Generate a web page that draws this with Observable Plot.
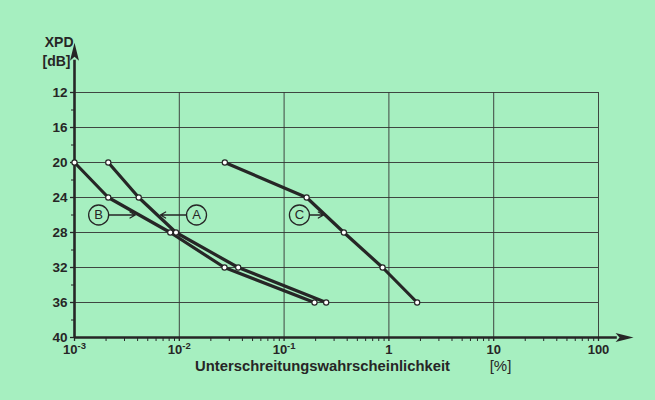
<!DOCTYPE html>
<html><head><meta charset="utf-8">
<script src="https://cdn.jsdelivr.net/npm/d3@7"></script>
<script src="https://cdn.jsdelivr.net/npm/@observablehq/plot@0.6"></script>
<style>
html,body{margin:0;padding:0;background:#a6efc0;}
#chart{width:655px;height:400px;}
</style></head><body><div id="chart"></div>
<script>
// XPD levels (dB) and exceedance probabilities (%) for the three curves
const levels = [20, 24, 28, 32, 36];
const probA = [0.0021, 0.0041, 0.0093, 0.0365, 0.252];
const probB = [0.001, 0.0021, 0.0082, 0.027, 0.195];
const probC = [0.0272, 0.164, 0.372, 0.87, 1.86];

// axes
const yTicks = [12, 16, 20, 24, 28, 32, 36, 40];
const yMinorTicks = [14, 18, 22, 26, 30, 34, 38];
const xTicks = [1e-3, 1e-2, 1e-1, 1, 10, 100];
const xTickBase = ["10", "10", "10", "1", "10", "100"];
const xTickExp = ["-3", "-2", "-1", "", "", ""];
const yTitle = ["XPD", "[dB]"];
const xTitle = "Unterschreitungswahrscheinlichkeit";
const xUnit = "[%]";
const axisTopY = 6.3;      // y-axis arrow extends above 12 dB
const axisRightX = 216;    // x-axis arrow extends beyond 100 %

// curve labels (circled letters with arrows)
const labelNames = ["A", "B", "C"];
const labelX = [0.0146, 0.0017, 0.14];
const labelArrowX = [0.0066, 0.0038, 0.238];
const labelY = [26, 26, 26];

// build tables
const series = [["A", probA], ["B", probB], ["C", probC]];
const rows = series.flatMap(([name, probs]) => probs.map((p, i) => ({series: name, p, xpd: levels[i]})));
const labels = labelNames.map((n, i) => ({name: n, x: labelX[i], tx: labelArrowX[i], y: labelY[i]}));
const xMinor = [];
for (const d of xTicks.slice(0, -1)) for (let k = 2; k <= 9; k++) xMinor.push(d * k);

const ink = "#262626";
const font = "'Liberation Sans', Arial, sans-serif";
const arrowHead = {
  draw(ctx) {
    ctx.moveTo(0, 0);
    ctx.lineTo(4.5, 18);
    ctx.lineTo(0, 14);
    ctx.lineTo(-4.5, 18);
    ctx.closePath();
  }
};

const plot = Plot.plot({
  width: 655,
  height: 400,
  marginLeft: 74,
  marginRight: 57,
  marginTop: 92,
  marginBottom: 63,
  style: {background: "#a6efc0", fontFamily: font, fontSize: "13px", color: ink, overflow: "visible"},
  x: {type: "log", domain: [1e-3, 100]},
  y: {domain: [12, 40], reverse: true},
  marks: [
    Plot.gridX(xTicks.slice(1), {stroke: "#333", strokeOpacity: 0.9, strokeWidth: 1}),
    Plot.gridY(yTicks.slice(0, -1), {stroke: "#333", strokeOpacity: 0.9, strokeWidth: 1}),
    Plot.axisY(yTicks, {tickSize: 4, tickPadding: 3, stroke: ink, strokeWidth: 1.3, tickFormat: d => String(d), label: null, fill: ink, fontSize: 13.5, fontWeight: "bold"}),
    Plot.axisY(yMinorTicks, {tickSize: 3, stroke: ink, tickFormat: () => "", label: null}),
    Plot.axisX(xTicks, {tickSize: 4, tickPadding: 3, stroke: ink, strokeWidth: 1.3, tickFormat: d => xTickBase[xTicks.indexOf(d)], label: null, fill: ink, fontSize: 13, fontWeight: "bold"}),
    Plot.axisX(xMinor, {tickSize: 4, stroke: ink, tickFormat: () => "", label: null}),
    Plot.ruleX([1e-3], {y1: 40, y2: axisTopY + 2, stroke: ink, strokeWidth: 2.6}),
    Plot.ruleY([40], {x1: 1e-3, x2: axisRightX * 0.7, stroke: ink, strokeWidth: 2.6}),
    Plot.dot([[1e-3, axisTopY]], {symbol: arrowHead, fill: ink, stroke: null, r: 5}),
    Plot.dot([[axisRightX, 40]], {symbol: arrowHead, rotate: 90, fill: ink, stroke: null, r: 5}),
    Plot.text([yTitle[0]], {x: 1e-3, y: 12, dx: -1, dy: -50, text: d => d, textAnchor: "end", fontSize: 14, fontWeight: "bold", fill: ink}),
    Plot.text([yTitle[1]], {x: 1e-3, y: 12, dx: -4, dy: -31, text: d => d, textAnchor: "end", fontSize: 14, fontWeight: "bold", fill: ink}),
    Plot.text([xTitle], {frameAnchor: "bottom", dx: -14, dy: 33, text: d => d, fontSize: 14.8, fontWeight: "bold", fill: ink}),
    Plot.text([xUnit], {frameAnchor: "bottom", dx: 164, dy: 33, text: d => d, fontSize: 15, fontWeight: "normal", fill: ink}),
    Plot.line(rows, {x: "p", y: "xpd", z: "series", stroke: ink, strokeWidth: 3.2, strokeLinejoin: "round"}),
    Plot.dot(rows, {x: "p", y: "xpd", r: 2.6, fill: "white", stroke: ink, strokeWidth: 1.2}),
    Plot.arrow(labels, {x1: "x", y1: "y", x2: "tx", y2: "y", insetStart: 10.5, stroke: ink, strokeWidth: 1.3, headLength: 7}),
    Plot.dot(labels, {x: "x", y: "y", r: 10, fill: "none", stroke: ink, strokeWidth: 1.3}),
    Plot.text(labels, {x: "x", y: "y", text: "name", fontSize: 13, fontWeight: "normal", fill: ink})
  ]
});

// superscript exponents on the x tick labels
const groups = plot.querySelectorAll('g[aria-label="x-axis tick label"]');
for (const g of groups) {
  const texts = [...g.querySelectorAll("text")];
  if (!texts.some(t => t.textContent.trim() !== "")) continue;
  texts.forEach((t, i) => {
    const exp = xTickExp[i];
    if (exp) {
      const ts = document.createElementNS("http://www.w3.org/2000/svg", "tspan");
      ts.setAttribute("dy", "-0.45em");
      ts.setAttribute("font-size", "9.5px");
      ts.textContent = exp;
      t.appendChild(ts);
    }
  });
}
document.getElementById("chart").appendChild(plot);
</script>
</body></html>
